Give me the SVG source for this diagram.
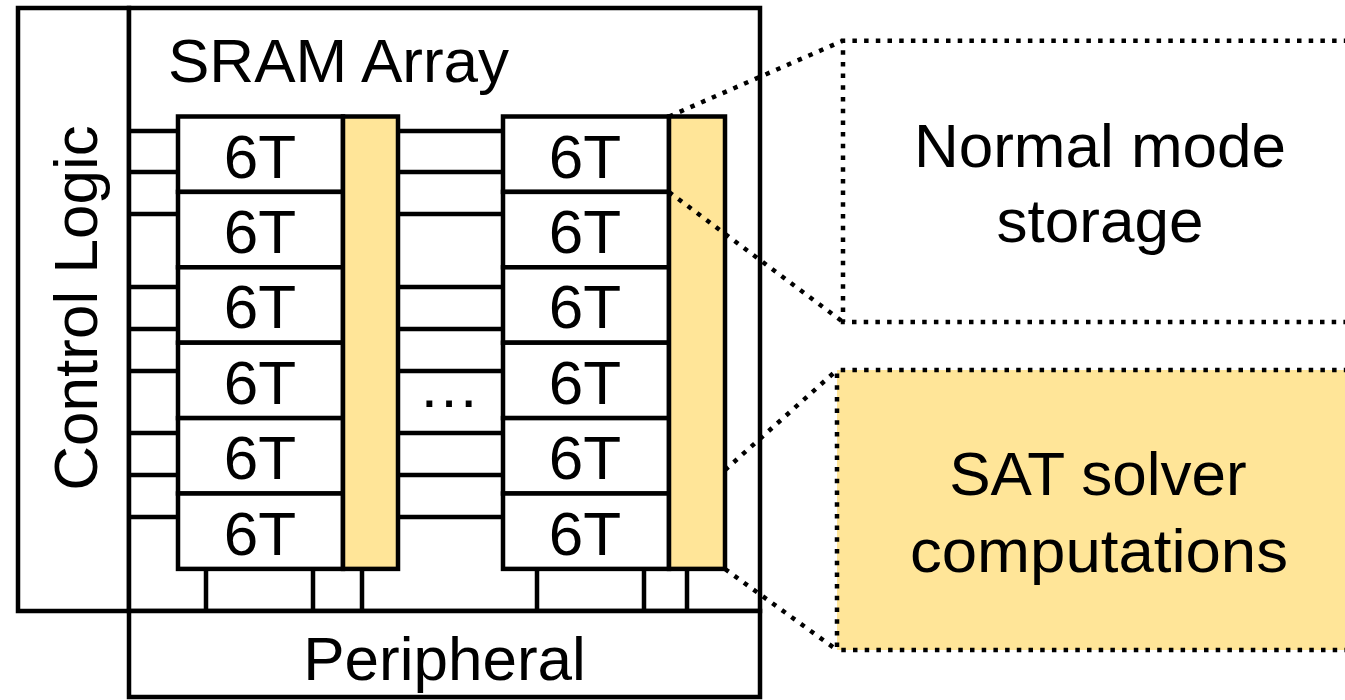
<svg xmlns="http://www.w3.org/2000/svg" width="1345" height="700" viewBox="0 0 1345 700">
  <style>
    .box { fill: #ffffff; stroke: #000000; stroke-width: 4.5; stroke-linejoin: miter; }
    .bar { fill: #FFE598; stroke: #000000; stroke-width: 4.5; }
    .wire { stroke: #000000; stroke-width: 4.5; fill: none; }
    .dot { stroke: #000000; stroke-width: 4.5; stroke-dasharray: 4.5 7.2; }
    .open { fill: none; }
    .plain { fill: #ffffff; }
    .hl { fill: #FFE598; }
    .lbl { font-family: "Liberation Sans", Arial, sans-serif; font-size: 62px; fill: #000000; }
    .mid { text-anchor: middle; }
  </style>

  <rect x="0" y="0" width="1345" height="700" fill="#ffffff"/>

  <!-- zoom-out regions on the right -->
  <g id="normal-mode">
    <path class="dot plain" d="M1360,40.7 H843 V322 H1360"/>
    <text class="lbl mid" x="1100" y="167">Normal mode</text>
    <text class="lbl mid" x="1100" y="242">storage</text>
  </g>
  <g id="sat-solver">
    <path class="dot hl" d="M1360,370 H837 V650 H1360"/>
    <text class="lbl mid" x="1098" y="495">SAT solver</text>
    <text class="lbl mid" x="1099" y="572" textLength="378" lengthAdjust="spacingAndGlyphs">computations</text>
  </g>

  <!-- outer blocks -->
  <g id="control-logic">
    <rect class="box" x="18" y="8" width="111" height="603"/>
    <text class="lbl mid" transform="translate(97,308) rotate(-90)">Control Logic</text>
  </g>
  <g id="sram-array">
    <rect class="box" x="129" y="8" width="631" height="603"/>
    <text class="lbl" x="168" y="82">SRAM Array</text>
  </g>
  <g id="peripheral">
    <rect class="box" x="129" y="611" width="631" height="86"/>
    <text class="lbl mid" x="444.5" y="680">Peripheral</text>
  </g>

  <!-- left column of 6T cells -->
  <g id="column-left">
    <rect class="box" x="178" y="116.5" width="165" height="75.4"/>
    <rect class="box" x="178" y="191.9" width="165" height="75.4"/>
    <rect class="box" x="178" y="267.3" width="165" height="75.4"/>
    <rect class="box" x="178" y="342.7" width="165" height="75.4"/>
    <rect class="box" x="178" y="418.1" width="165" height="75.4"/>
    <rect class="box" x="178" y="493.5" width="165" height="75.4"/>
    <text class="lbl mid" x="260" y="177.5">6T</text>
    <text class="lbl mid" x="260" y="252.9">6T</text>
    <text class="lbl mid" x="260" y="328.3">6T</text>
    <text class="lbl mid" x="260" y="403.7">6T</text>
    <text class="lbl mid" x="260" y="479.1">6T</text>
    <text class="lbl mid" x="260" y="554.5">6T</text>
  </g>
  <g id="bar-left">
    <rect class="bar" x="343" y="116.5" width="55" height="452.4"/>
  </g>

  <g id="ellipsis">
    <text class="lbl mid" x="449" y="407">…</text>
  </g>

  <!-- right column of 6T cells -->
  <g id="column-right">
    <rect class="box" x="503" y="116.5" width="166" height="75.4"/>
    <rect class="box" x="503" y="191.9" width="166" height="75.4"/>
    <rect class="box" x="503" y="267.3" width="166" height="75.4"/>
    <rect class="box" x="503" y="342.7" width="166" height="75.4"/>
    <rect class="box" x="503" y="418.1" width="166" height="75.4"/>
    <rect class="box" x="503" y="493.5" width="166" height="75.4"/>
    <text class="lbl mid" x="585" y="177.5">6T</text>
    <text class="lbl mid" x="585" y="252.9">6T</text>
    <text class="lbl mid" x="585" y="328.3">6T</text>
    <text class="lbl mid" x="585" y="403.7">6T</text>
    <text class="lbl mid" x="585" y="479.1">6T</text>
    <text class="lbl mid" x="585" y="554.5">6T</text>
  </g>
  <g id="bar-right">
    <rect class="bar" x="669" y="116.5" width="56" height="452.4"/>
  </g>

  <!-- word lines, bit lines and zoom guides -->
  <g id="connectors">
    <path class="wire" d="M129,131 H178 M129,172 H178 M129,214 H178 M129,287 H178 M129,329 H178 M129,371 H178 M129,433 H178 M129,475 H178 M129,517 H178"/>
    <path class="wire" d="M398,131 H503 M398,172 H503 M398,214 H503 M398,287 H503 M398,329 H503 M398,371 H503 M398,433 H503 M398,475 H503 M398,517 H503"/>
    <path class="wire" d="M206,569 V611 M313,569 V611 M362,569 V611 M537,569 V611 M644,569 V611 M687,569 V611"/>
    <path class="dot open" d="M669,116.5 L843,40.7"/>
    <path class="dot open" d="M669,192 L843,322"/>
    <path class="dot open" d="M725,470 L837,370"/>
    <path class="dot open" d="M725,569 L837,650"/>
  </g>
</svg>
